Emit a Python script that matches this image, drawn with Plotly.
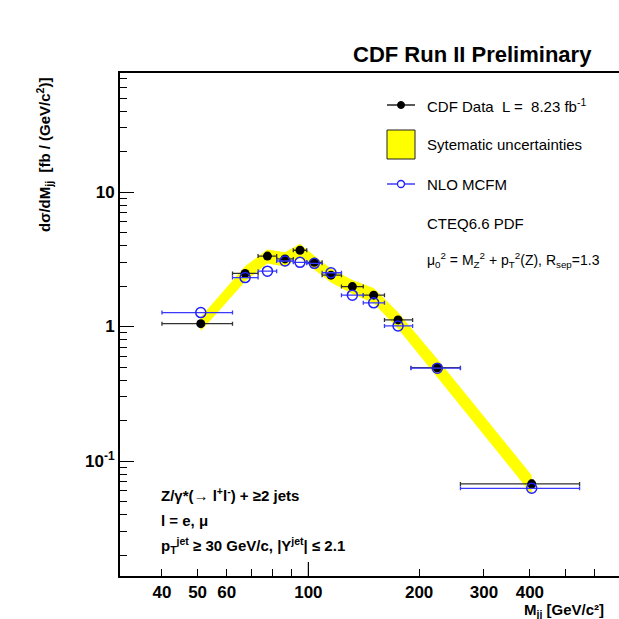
import plotly.graph_objects as go

# ---------------- data ----------------
mjj = [51.0, 67.3, 77.4, 86.4, 94.9, 103.8, 115.2, 131.7, 150.5, 175.3, 224.1, 404.6]
bin_lo = [40.0, 62.2, 73.0, 82.0, 91.0, 99.0, 109.0, 123.0, 141.0, 161.0, 190.0, 259.0]
bin_hi = [62.2, 73.0, 82.0, 91.0, 99.0, 109.0, 123.0, 141.0, 161.0, 192.0, 259.0, 546.0]
data_xsec = [1.05, 2.48, 3.34, 3.18, 3.69, 3.00, 2.41, 1.98, 1.71, 1.12, 0.494, 0.0675]
data_stat = [0.05, 0.10, 0.12, 0.10, 0.13, 0.10, 0.08, 0.07, 0.06, 0.05, 0.025, 0.005]
mcfm_xsec = [1.27, 2.31, 2.58, 3.07, 3.00, 2.95, 2.51, 1.71, 1.50, 1.01, 0.49, 0.0627]
sys_rel = [0.12, 0.13, 0.12, 0.12, 0.12, 0.12, 0.12, 0.12, 0.13, 0.14, 0.16, 0.16]

x_tickvals = [40, 50, 60, 100, 200, 300, 400]
x_minor = [70, 80, 90, 500, 600, 700]
y_tickvals = [0.1, 1, 10]
y_ticktext = ["10<sup>-1</sup>", "1", "10"]
y_minor = [0.02, 0.03, 0.04, 0.05, 0.06, 0.07, 0.08, 0.09,
           0.2, 0.3, 0.4, 0.5, 0.6, 0.7, 0.8, 0.9,
           2, 3, 4, 5, 6, 7, 8, 9, 20, 30, 40, 50, 60, 70]

FONT = "Liberation Sans, Arial, Helvetica, sans-serif"
W, H = 619, 619
ML, MR, MT, MB = 120, 0, 73, 43
PW, PH = W - ML - MR, H - MT - MB

def px(x):
    return (x - ML) / PW

def py(y):
    return (H - MB - y) / PH

fig = go.Figure()

# systematic band
up = [v * (1 + s) for v, s in zip(data_xsec, sys_rel)]
dn = [v * (1 - s) for v, s in zip(data_xsec, sys_rel)]
fig.add_trace(go.Scatter(
    x=mjj + mjj[::-1], y=up + dn[::-1], fill="toself", mode="lines",
    fillcolor="#ffff00", line=dict(width=0, color="#ffff00"),
    hoverinfo="skip", showlegend=False))

err_plus = [h - m for h, m in zip(bin_hi, mjj)]
err_minus = [m - l for m, l in zip(mjj, bin_lo)]

# CDF data
fig.add_trace(go.Scatter(
    x=mjj, y=data_xsec, mode="markers",
    marker=dict(color="black", size=9, symbol="circle"),
    error_x=dict(type="data", array=err_plus, arrayminus=err_minus,
                 color="#333333", thickness=1.3, width=2),
    error_y=dict(type="data", array=data_stat, color="#333333",
                 thickness=1.3, width=2),
    showlegend=False))

# NLO MCFM
fig.add_trace(go.Scatter(
    x=mjj, y=mcfm_xsec, mode="markers",
    marker=dict(color="#2020ff", size=10, symbol="circle-open",
                line=dict(color="#2020ff", width=1.5)),
    error_x=dict(type="data", array=err_plus, arrayminus=err_minus,
                 color="#3a3aff", thickness=1.3, width=2),
    showlegend=False))

shapes = []
# long major tick at 100 on x axis
shapes.append(dict(type="line", xref="x", yref="paper", x0=100, x1=100,
                   y0=0, y1=14 / PH, line=dict(color="black", width=1.2)))

# legend glyphs
shapes.append(dict(type="line", xref="paper", yref="paper",
                   x0=px(387), x1=px(415), y0=py(105), y1=py(105),
                   line=dict(color="black", width=1.3)))
shapes.append(dict(type="circle", xref="paper", yref="paper",
                   x0=px(397.5), x1=px(404.5), y0=py(108.5), y1=py(101.5),
                   fillcolor="black", line=dict(color="black", width=1)))
shapes.append(dict(type="rect", xref="paper", yref="paper",
                   x0=px(387), x1=px(415), y0=py(159), y1=py(130),
                   fillcolor="#ffff00", line=dict(color="#222222", width=1)))
shapes.append(dict(type="line", xref="paper", yref="paper",
                   x0=px(387), x1=px(415), y0=py(184), y1=py(184),
                   line=dict(color="#2020ff", width=1.3)))
shapes.append(dict(type="circle", xref="paper", yref="paper",
                   x0=px(397.5), x1=px(404.5), y0=py(187.5), y1=py(180.5),
                   fillcolor="white", line=dict(color="#2020ff", width=1.3)))

ann = []
def text(x, y, s, size=15, bold=False, xanchor="left", color="black", **kw):
    ann.append(dict(xref="paper", yref="paper", x=px(x), y=py(y), text=s,
                    showarrow=False, xanchor=xanchor, yanchor="middle",
                    font=dict(family=FONT, size=size, color=color,
                              weight="bold" if bold else "normal"), **kw))

text(425, 105, "CDF Data  L =  8.23 fb<sup>-1</sup>", 15)
text(425, 144, "Sytematic uncertainties", 15)
text(425, 184, "NLO MCFM", 15)
text(425, 224, "CTEQ6.6 PDF", 15)
text(425, 260, "\u03bc<sub>0</sub><sup>2</sup> = M<sub>Z</sub><sup>2</sup> + p<sub>T</sub><sup>2</sup>(Z), R<sub>sep</sub>=1.3", 14)

text(159, 494, "Z/\u03b3*(\u2192 l<sup>+</sup>l<sup>-</sup>) + \u22652 jets", 15, True)
text(159, 520, "l = e, \u03bc", 15, True)
text(159, 545, "p<sub>T</sub><sup>jet</sup> \u2265 30 GeV/c, |Y<sup>jet</sup>| \u2264 2.1", 15, True)

text(594, 55, "CDF Run II Preliminary", 22, True, xanchor="right")
text(522, 610, "M<sub>jj</sub> [GeV/c\u00b2]", 15, True)
ann.append(dict(xref="paper", yref="paper", x=px(44), y=py(155),
                text="d\u03c3/dM<sub>jj</sub>  [fb / (GeV/c<sup>2</sup>)]",
                showarrow=False, textangle=-90, xanchor="center", yanchor="middle",
                font=dict(family=FONT, size=15, color="black", weight="bold")))

fig.update_layout(
    width=W, height=H,
    margin=dict(l=ML, r=MR, t=MT, b=MB),
    paper_bgcolor="white", plot_bgcolor="white",
    showlegend=False,
    shapes=shapes, annotations=ann,
    xaxis=dict(type="log", range=[1.488, 2.8443],
               tickmode="array", tickvals=x_tickvals,
               ticktext=[str(v) for v in x_tickvals],
               ticks="inside", ticklen=7, tickwidth=1.2, tickcolor="black",
               minor=dict(tickvals=x_minor, ticks="inside", ticklen=7,
                          tickwidth=1.2, tickcolor="black", showgrid=False),
               showline=True, linecolor="black", linewidth=2, mirror=True,
               showgrid=False, zeroline=False, ticklabelstandoff=0,
               tickfont=dict(family=FONT, size=17, color="black", weight="bold")),
    yaxis=dict(type="log", range=[-1.855, 1.885],
               tickmode="array", tickvals=y_tickvals, ticktext=y_ticktext,
               ticks="inside", ticklen=14, tickwidth=1.2, tickcolor="black",
               minor=dict(tickvals=y_minor, ticks="inside", ticklen=7,
                          tickwidth=1.2, tickcolor="black", showgrid=False),
               showline=True, linecolor="black", linewidth=2, mirror=False,
               showgrid=False, zeroline=False, ticklabelstandoff=0,
               tickfont=dict(family=FONT, size=17, color="black", weight="bold")),
)

fig.write_html("out.html")
